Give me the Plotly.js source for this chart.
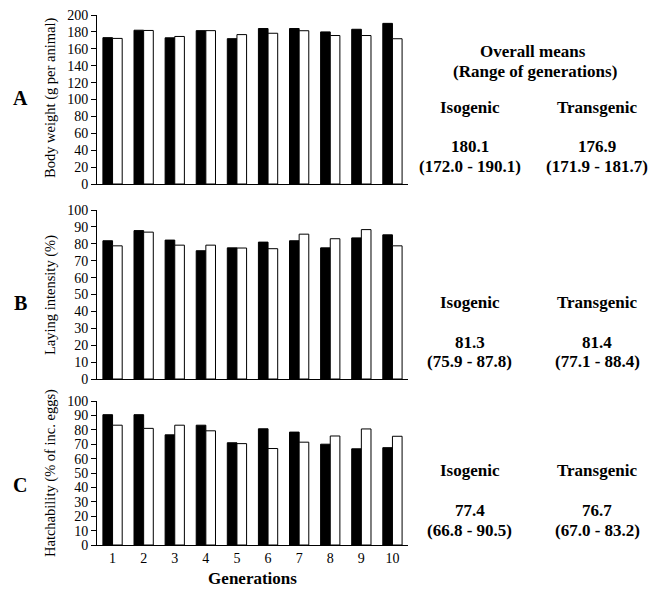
<!DOCTYPE html>
<html>
<head>
<meta charset="utf-8">
<script src="https://cdn.plot.ly/plotly-3.0.1.min.js"></script>
<style>html,body{margin:0;padding:0;background:#fff;}#chart{width:649px;height:590px;}</style>
</head>
<body>
<div id="chart"></div>
<script>
// ---- data ----
const generations = ["1","2","3","4","5","6","7","8","9","10"];
const isoWeight   = [173.2, 182.0, 173.0, 181.5, 172.0, 184.0, 184.0, 180.0, 183.1, 190.1];
const transWeight = [172.3, 181.7, 174.6, 181.5, 176.8, 178.4, 181.4, 175.7, 175.7, 171.9];
const isoLaying   = [81.8, 87.8, 82.2, 75.9, 77.6, 81.0, 81.8, 77.6, 83.5, 85.3];
const transLaying = [78.8, 86.9, 79.2, 79.2, 77.5, 77.1, 85.7, 83.0, 88.4, 78.8];
const isoHatch    = [90.5, 90.5, 76.5, 83.2, 71.0, 80.7, 78.4, 70.0, 66.8, 67.6];
const transHatch  = [83.2, 81.0, 83.2, 79.3, 70.4, 67.0, 71.4, 75.7, 80.6, 75.5];
const panelLetters = ["A", "B", "C"];
const yTitles = ["Body weight (g per animal)", "Laying intensity (%)", "Hatchability (% of inc. eggs)"];
const groupNames = ["Isogenic", "Transgenic"];
const isoMeans   = ["180.1", "81.3", "77.4"];
const isoRanges  = ["(172.0 - 190.1)", "(75.9 - 87.8)", "(66.8 - 90.5)"];
const transMeans = ["176.9", "81.4", "76.7"];
const transRanges= ["(171.9 - 181.7)", "(77.1 - 88.4)", "(67.0 - 83.2)"];

// ---- layout helpers ----
const W = 649, H = 590;
const FONT = "Liberation Serif, Times New Roman, serif";
const px = x => x / W;
const py = y => 1 - y / H;

const panels = [
  {iso: isoWeight, trans: transWeight, top: 15, bottom: 184, range: [0, 200], dtick: 20,
   titleY: 98, letterY: 98, headY: 107, meanY: 147, rangeY: 166},
  {iso: isoLaying, trans: transLaying, top: 210, bottom: 379, range: [0, 100], dtick: 10,
   titleY: 295, letterY: 303, headY: 302, meanY: 342, rangeY: 361},
  {iso: isoHatch, trans: transHatch, top: 401, bottom: 545, range: [0, 100], dtick: 10,
   titleY: 473, letterY: 485, headY: 470, meanY: 510, rangeY: 530}
];

const traces = [];
const layout = {
  width: W, height: H,
  margin: {l: 0, r: 0, t: 0, b: 0},
  paper_bgcolor: "#fff", plot_bgcolor: "#fff",
  showlegend: false,
  barmode: "group", bargap: 0.38, bargroupgap: 0,
  font: {family: FONT, size: 13, color: "#000"},
  annotations: []
};

const TXT = 17;
panels.forEach((p, i) => {
  const n = i + 1;
  const xa = n === 1 ? "x" : "x" + n;
  const ya = n === 1 ? "y" : "y" + n;
  traces.push({type: "bar", x: generations, y: p.iso, name: groupNames[0], xaxis: xa, yaxis: ya,
    marker: {color: "#000", line: {color: "#000", width: 1}}, hoverinfo: "y"});
  traces.push({type: "bar", x: generations, y: p.trans, name: groupNames[1], xaxis: xa, yaxis: ya,
    marker: {color: "#fff", line: {color: "#000", width: 1}}, hoverinfo: "y"});
  layout["xaxis" + (n === 1 ? "" : n)] = {
    domain: [px(97), px(408)], anchor: ya, type: "category",
    range: [-0.5, 9.5], showline: true, linecolor: "#000", linewidth: 1,
    ticks: "", showgrid: false, zeroline: false,
    showticklabels: n === 3, tickfont: {family: FONT, size: 14, color: "#000"},
    title: n === 3 ? {text: "<b>Generations</b>", font: {family: FONT, size: 17}, standoff: 7} : {text: ""}
  };
  layout["yaxis" + (n === 1 ? "" : n)] = {
    domain: [py(p.bottom), py(p.top)], anchor: xa,
    range: p.range, dtick: p.dtick, showline: true, linecolor: "#000", linewidth: 1,
    ticks: "outside", ticklen: 5, tickcolor: "#000", showgrid: false, zeroline: false,
    tickfont: {family: FONT, size: 14, color: "#000"}
  };
  const ann = (x, y, text, size, extra) => Object.assign({xref: "paper", yref: "paper", x: px(x), y: py(y),
    text: text, showarrow: false, xanchor: "center", yanchor: "middle", font: {family: FONT, size: size}}, extra || {});
  layout.annotations.push(
    ann(50, p.titleY, yTitles[i], 14.5, {textangle: -90}),
    ann(20, p.letterY, "<b>" + panelLetters[i] + "</b>", 20),
    ann(470, p.headY, "<b>" + groupNames[0] + "</b>", TXT),
    ann(597, p.headY, "<b>" + groupNames[1] + "</b>", TXT),
    ann(470, p.meanY, "<b>" + isoMeans[i] + "</b>", TXT),
    ann(597, p.meanY, "<b>" + transMeans[i] + "</b>", TXT),
    ann(470, p.rangeY, "<b>" + isoRanges[i] + "</b>", TXT),
    ann(597, p.rangeY, "<b>" + transRanges[i] + "</b>", TXT)
  );
});

layout.annotations.push(
  {xref: "paper", yref: "paper", x: px(533), y: py(52), text: "<b>Overall means</b>",
   showarrow: false, xanchor: "center", yanchor: "middle", font: {family: FONT, size: TXT}},
  {xref: "paper", yref: "paper", x: px(535), y: py(72), text: "<b>(Range of generations)</b>",
   showarrow: false, xanchor: "center", yanchor: "middle", font: {family: FONT, size: TXT}}
);

Plotly.newPlot("chart", traces, layout, {staticPlot: true, displayModeBar: false});
</script>
</body>
</html>
